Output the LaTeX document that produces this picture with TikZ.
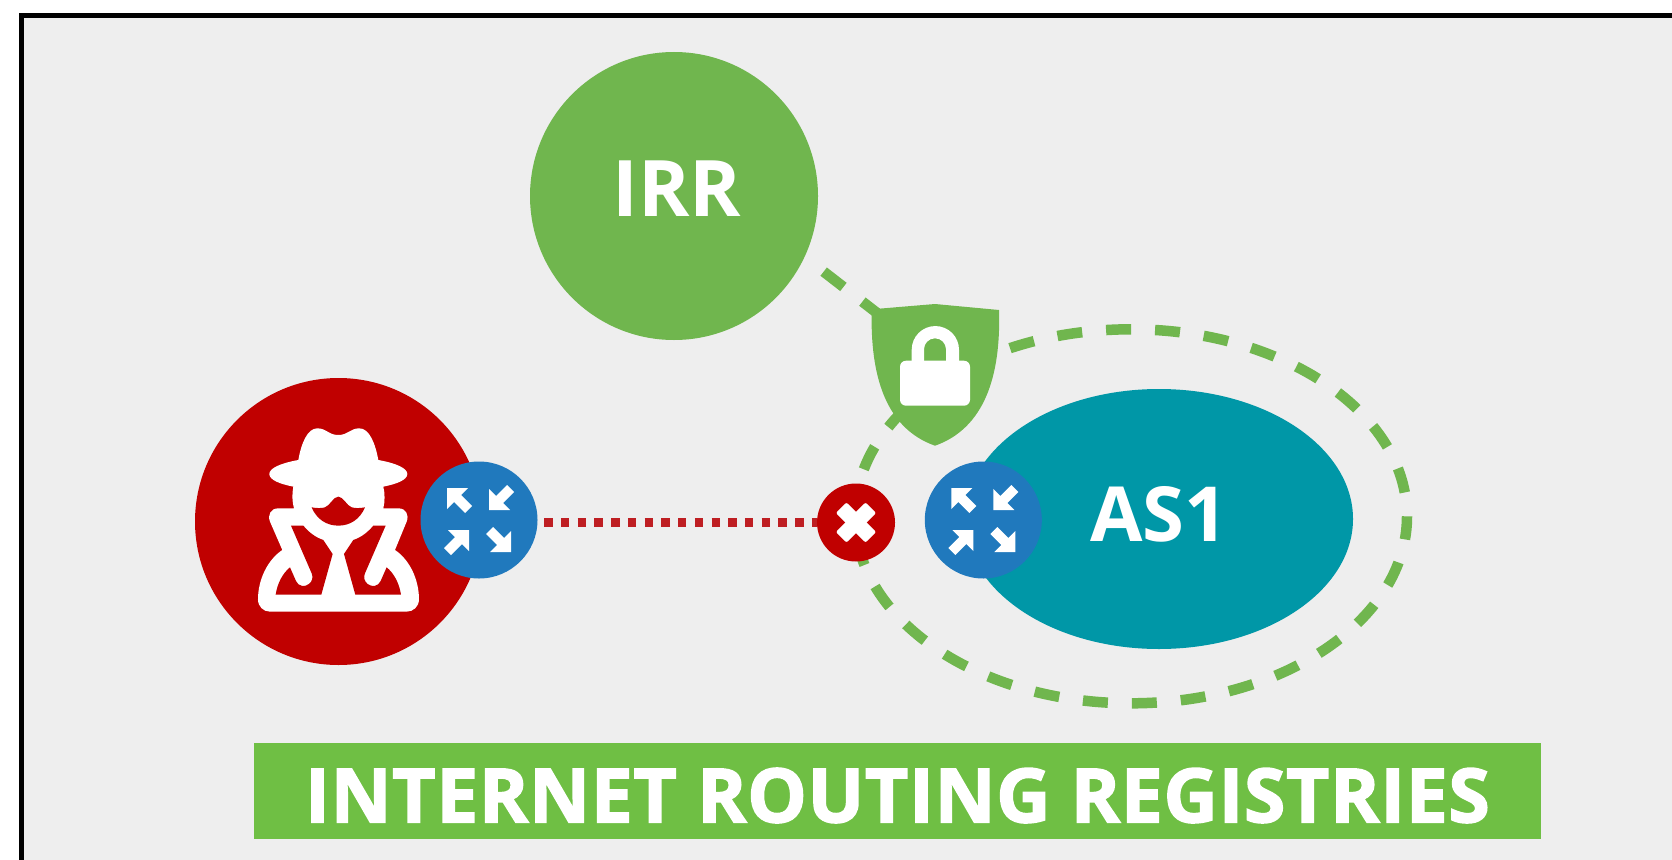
\documentclass[tikz,border=0pt]{standalone}
\usepackage{fontspec}
\setmainfont{Open Sans}
\newfontfamily\bannerfont[BoldFeatures={FakeBold=2},LetterSpace=0.9]{Open Sans}
\usepackage{tikz}
\usetikzlibrary{backgrounds,shapes.geometric}

\definecolor{irrgreen}{HTML}{70B64E}
\definecolor{bannergreen}{HTML}{6FBF44}
\definecolor{attackred}{HTML}{C00000}
\definecolor{dotred}{HTML}{BE1E22}
\definecolor{routerblue}{HTML}{2079BD}
\definecolor{asteal}{HTML}{0097A7}
\definecolor{panelgrey}{HTML}{EEEEEE}

\tikzset{
    biglabel/.style={text=white,inner sep=0pt,font=\bfseries\fontsize{78}{78}\selectfont},
    routernode/.style={circle,fill=routerblue,inner sep=0pt,minimum size=117pt},
    trustlink/.style={draw=irrgreen,line width=10.5pt,outer sep=0pt,dash pattern=on 25pt off 24pt,dash phase=25pt},
    routerarrows/.pic={
        \foreach \turn in {0,180}
        {
            \fill[white,rotate=\turn] (-32,-32) -- (-11,-32) -- (-18,-25) -- (-7,-14)
                -- (-14,-7) -- (-25,-18) -- (-32,-11) -- cycle;
            \fill[white,rotate=\turn] (10,-10) -- (10,-31) -- (17,-24) -- (28,-35)
                -- (35,-28) -- (24,-17) -- (31,-10) -- cycle;
        }
    }
}

\begin{document}
\begin{tikzpicture}[x=1pt,y=-1pt]
\useasboundingbox (0,0) rectangle (1672,859);

% Circles
\node[circle,fill=irrgreen,inner sep=0pt,minimum size=288pt] (irr) at (674,196) {};
\node[biglabel] (irrtext) at ([shift={(3,-7.5)}]irr) {IRR};
\node[circle,fill=attackred,inner sep=0pt,minimum size=287pt] (attacker) at (338.5,521.5) {};
\node[ellipse,fill=asteal,inner sep=0pt,minimum width=388pt,minimum height=260pt] (as1) at (1159,519) {};
\node[biglabel,font=\bfseries\fontsize{76}{76}\selectfont] (astext) at ([shift={(0,-5)}]as1) {AS1};
\node[routernode] (routerL) at (479,520) {};
\node[routernode] (routerR) at (983.3,520) {};
\node[circle,fill=attackred,inner sep=0pt,minimum size=78pt] (block) at (856,522.5) {};
\pic at (routerL) {routerarrows};
\pic at (routerR) {routerarrows};

% Blocked mark
\foreach \turn in {45,135}
{
    \fill[white,rounded corners=2pt,shift={(block.center)},rotate=\turn] (-21,-7.5) rectangle (21,7.5);
}

% Spy
\begin{scope}[shift={(180,360)},x=0.3333pt,y=-0.3333pt]
\fill[white] (355,300) .. controls (364,250) and (382,205) .. (412,205)
    .. controls (440,205) and (445,225) .. (475,225)
    .. controls (505,225) and (510,205) .. (538,205)
    .. controls (568,205) and (586,250) .. (595,300)
    .. controls (650,310) and (682,325) .. (682,342)
    .. controls (682,360) and (650,372) .. (610,380)
    .. controls (615,400) and (615,425) .. (610,445)
    -- (655,445) .. controls (678,445) and (688,465) .. (680,485)
    -- (645,570) .. controls (690,600) and (717,660) .. (717,718)
    .. controls (717,740) and (700,755) .. (680,755)
    -- (270,755) .. controls (250,755) and (234,740) .. (234,718)
    .. controls (234,660) and (262,600) .. (307,570)
    -- (270,485) .. controls (262,465) and (272,445) .. (295,445)
    -- (342,445) .. controls (336,425) and (336,400) .. (340,380)
    .. controls (300,372) and (268,360) .. (268,342)
    .. controls (268,325) and (300,310) .. (355,300) -- cycle;
\fill[attackred] (395,442) .. controls (410,445) and (425,445) .. (435,442)
    .. controls (450,437) and (460,410) .. (475,410)
    .. controls (490,410) and (500,437) .. (515,442)
    .. controls (525,445) and (540,445) .. (555,442)
    .. controls (540,478) and (510,497) .. (475,497)
    .. controls (440,497) and (410,478) .. (395,442) -- cycle;
\foreach \side/\mid in {1/0,-1/950}
{
    \begin{scope}[xshift=\mid*0.3333pt,xscale=\side]
    \fill[attackred] (333,497) -- (370,497) .. controls (385,515) and (405,532) .. (430,540)
        -- (458,582) -- (424,704) -- (287,704) .. controls (292,670) and (308,640) .. (330,622)
        -- (348,663) .. controls (355,680) and (375,682) .. (387,672)
        .. controls (397,664) and (400,652) .. (395,640) -- cycle;
    \end{scope}
}
\end{scope}

% Shield
\fill[irrgreen] (871.7,309.3) -- (935,304) -- (999,310)
    .. controls (1001,375) and (985,428) .. (935,445.7)
    .. controls (885,428) and (870,375) .. (871.7,309.3) -- cycle;
\fill[white,rounded corners=6pt] (900,360.7) rectangle (970,405.7);
\fill[white] (911.7,365) -- (911.7,349.7) arc (180:360:23.65) -- (959,365) -- (946,365)
    -- (946,349.3) arc (360:180:11) -- (924,365) -- cycle;
\coordinate (shieldtop) at (899,330);

% Banner
\node[fill=bannergreen,inner sep=0pt,minimum width=1287pt,minimum height=96pt] (banner) at (897.5,791) {};
\node[text=white,inner sep=0pt,font=\bannerfont\bfseries\fontsize{75}{75}\selectfont] (bannertext)
    at ([yshift=-4.5pt]banner.center) {INTERNET ROUTING REGISTRIES};

% Panel and links
\begin{scope}[on background layer]
\fill[white] (0,0) rectangle (1672,859);
\begin{scope}
\clip (0,0) rectangle (1672,859);
\draw[line width=5.3pt,fill=panelgrey] (21.6,15.6) rectangle (1700,900);
\end{scope}
\node[ellipse,trustlink,inner sep=0pt,minimum width=552pt,minimum height=374pt] (trust) at (1131,516.3) {};
\draw[trustlink] (irr.-25.7) -- (shieldtop);
\draw[dotred,line width=8.3pt,dash pattern=on 8.4pt off 8.33pt,dash phase=10.23pt] (routerL.east |- block.west) -- (block.west);
\end{scope}
\end{tikzpicture}
\end{document}
